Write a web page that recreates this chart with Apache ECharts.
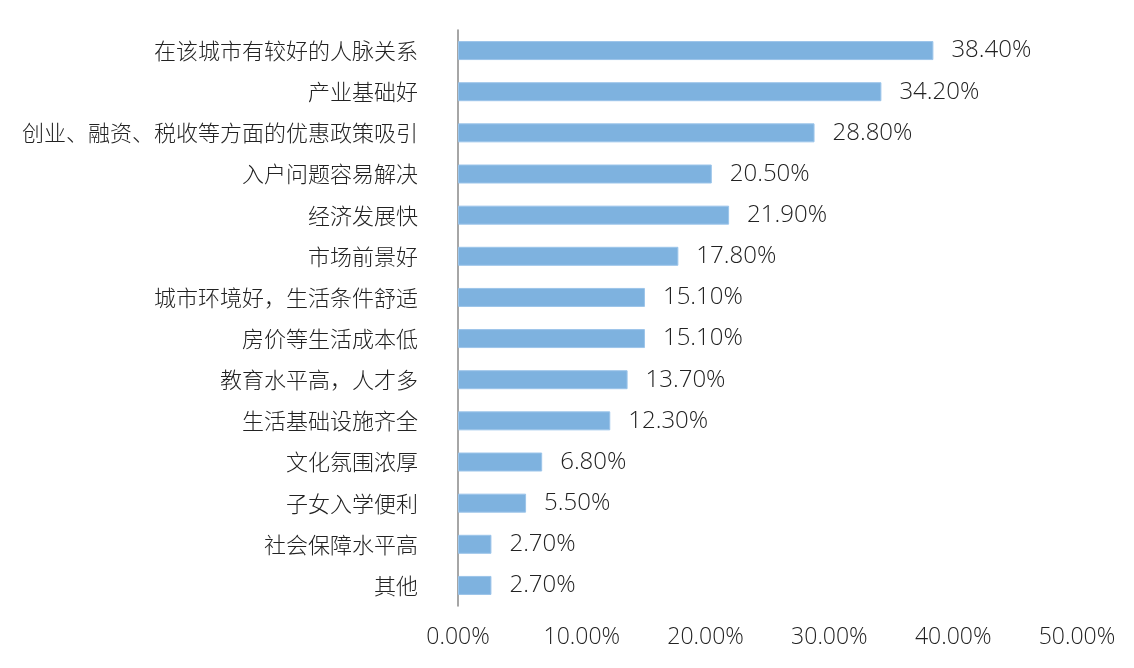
<!DOCTYPE html>
<html>
<head>
<meta charset="utf-8">
<script src="https://cdn.jsdelivr.net/npm/echarts@6/dist/echarts.min.js"></script>
<style>
  html, body { margin: 0; padding: 0; background: #fff; }
  #chart { width: 1134px; height: 668px; }
</style>
</head>
<body>
<div id="chart"></div>
<script>
const categories = [
  '在该城市有较好的人脉关系',
  '产业基础好',
  '创业、融资、税收等方面的优惠政策吸引',
  '入户问题容易解决',
  '经济发展快',
  '市场前景好',
  '城市环境好，生活条件舒适',
  '房价等生活成本低',
  '教育水平高，人才多',
  '生活基础设施齐全',
  '文化氛围浓厚',
  '子女入学便利',
  '社会保障水平高',
  '其他'
]
const shares = [38.4, 34.2, 28.8, 20.5, 21.9, 17.8, 15.1, 15.1, 13.7, 12.3, 6.8, 5.5, 2.7, 2.7]

const numFont = '"Open Sans", "Noto Sans", sans-serif'
const cjkFont = '"Noto Sans CJK SC", sans-serif'

const chart = echarts.init(document.getElementById('chart'))
chart.setOption({
  animation: false,
  grid: { left: 458, right: 57, top: 30, bottom: 62, containLabel: false },
  xAxis: {
    type: 'value',
    min: 0,
    max: 50,
    interval: 10,
    axisLine: { show: false },
    axisTick: { show: false },
    splitLine: { show: false },
    axisLabel: {
      margin: 20,
      fontFamily: numFont,
      fontWeight: 300,
      fontSize: 23,
      color: '#222',
      formatter: v => v.toFixed(2) + '%'
    }
  },
  yAxis: {
    type: 'category',
    inverse: true,
    data: categories,
    axisLine: { show: true, lineStyle: { color: '#888', width: 1.5 } },
    axisTick: { show: false },
    axisLabel: {
      margin: 40,
      fontFamily: cjkFont,
      fontWeight: 300,
      fontSize: 22,
      color: '#222'
    }
  },
  series: [{
    type: 'bar',
    data: shares,
    barWidth: 19,
    itemStyle: { color: '#7eb2df', borderColor: '#9cc5ea', borderWidth: 1 },
    label: {
      show: true,
      position: 'right',
      distance: 18,
      fontFamily: numFont,
      fontWeight: 300,
      fontSize: 24,
      color: '#222',
      formatter: p => p.value.toFixed(2) + '%'
    }
  }]
})
</script>
</body>
</html>
